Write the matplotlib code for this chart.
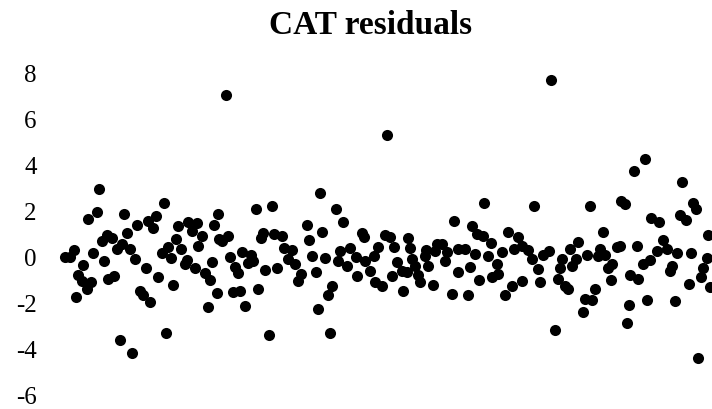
import matplotlib
matplotlib.use("Agg")
import matplotlib.pyplot as plt

# observation position (arbitrary order, no x labels shown) and residual value
obs = [5, 10, 14, 16, 18, 22, 23, 27, 28, 31, 33, 37, 39, 42, 44, 47, 48, 52, 54, 57,
       60, 62, 64, 67, 70, 72, 75, 77, 80, 83, 86, 88, 90, 93, 96, 98, 102, 104, 106, 108,
       111, 113, 116, 118, 121, 125, 127, 128, 132, 135, 137, 138, 142, 145, 148, 150, 152, 154, 157, 158,
       159, 162, 166, 168, 170, 173, 175, 178, 180, 182, 185, 188, 191, 193, 196, 198, 201, 203, 205, 209,
       212, 214, 217, 222, 224, 228, 232, 235, 238, 241, 247, 249, 252, 256, 258, 260, 262, 265, 268, 270,
       272, 276, 278, 280, 283, 287, 290, 296, 297, 302, 304, 305, 310, 314, 315, 318, 322, 325, 327, 330,
       332, 334, 337, 342, 343, 347, 348, 350, 352, 355, 358, 360, 365, 366, 368, 373, 375, 377, 382, 385,
       387, 392, 394, 398, 398, 405, 408, 410, 412, 415, 417, 419, 423, 424, 428, 431, 432, 437, 438, 442,
       445, 448, 452, 454, 458, 462, 462, 468, 472, 474, 478, 480, 483, 489, 491, 495, 498, 500, 502, 505,
       508, 510, 512, 516, 518, 523, 525, 527, 530, 532, 535, 538, 540, 543, 545, 548, 551, 552, 557, 560,
       561, 565, 567, 569, 570, 574, 577, 578, 583, 585, 587, 590, 591, 597, 599, 603, 607, 610, 612, 615,
       617, 620, 622, 626, 629, 631, 633, 636, 638, 641, 643, 647, 648, 650]
resid = [0.03, 0.03, 0.36, -1.7, -0.74, -0.98, -0.3, -1.34, 1.69, -1.05, 0.22, 2.02, 3.02, 0.75, -0.14, 1.0, -0.91, 0.85, -0.79, 0.39,
         -3.58, 0.61, 1.91, 1.07, 0.39, -4.12, -0.04, 1.43, -1.42, -1.6, -0.45, 1.62, -1.92, 1.29, 1.83, -0.84, 0.22, 2.41, -3.25, 0.46,
         -0.01, -1.17, 0.82, 1.37, 0.39, -0.26, -0.07, 1.57, 1.18, -0.45, 1.52, 0.51, 0.97, -0.65, -2.14, -0.94, -0.16, 1.43, -1.52, 1.91,
         0.82, 0.75, 7.07, 0.94, 0.03, -1.46, -0.4, -0.65, -1.42, 0.25, -2.07, -0.22, 0.13, -0.12, 2.12, -1.34, 0.85, 1.08, -0.51, -3.34,
         2.27, 1.04, -0.45, 0.94, 0.42, -0.04, 0.36, -0.26, -0.98, -0.69, 1.43, 0.79, 0.1, -0.59, -2.21, 2.82, 1.14, -0.01, -1.63, -3.25,
         -1.2, 2.12, -0.12, 0.32, 1.55, -0.33, 0.42, 0.03, -0.77, 1.08, 0.9, -0.12, -0.55, 0.1, -1.05, 0.48, -1.2, 1.0, 5.33, 0.9,
         -0.77, 0.46, -0.19, -0.55, -1.42, -0.62, 0.85, 0.42, -0.04, -0.33, -0.74, -1.05, 0.1, 0.36, -0.33, -1.17, 0.32, 0.61, 0.61, -0.12,
         0.25, -1.56, 1.62, 0.39, -0.6, 0.39, -1.6, -0.4, 1.37, 0.17, 1.04, -0.94, 0.94, 2.38, 0.07, 0.65, -0.84, -0.26, -0.69, 0.25,
         -1.6, 1.14, -1.2, 0.39, 0.9, 0.53, -0.98, 0.36, -0.04, 2.27, -0.48, -1.05, 0.13, 0.32, 7.76, -3.15, -0.91, -0.45, -0.04, -1.2,
         -1.34, 0.39, -0.33, -0.04, 0.68, -2.35, -1.78, 0.13, 2.24, -1.81, -1.34, 0.07, 0.39, 1.14, 0.13, -0.45, -0.94, -0.26, 0.46, 0.51,
         2.48, 2.36, -2.82, -2.04, -0.74, 3.78, 0.53, -0.91, -0.26, 4.32, -1.81, -0.07, 1.76, 0.32, 1.57, 0.79, 0.39, -0.55, -0.33, -1.89,
         0.22, 1.86, 3.31, 1.66, -1.13, 0.22, 2.38, 2.15, -4.35, -0.84, -0.45, -0.01, 1.0, -1.27]
yticks = [-6, -4, -2, 0, 2, 4, 6, 8]

plt.rcParams['font.family'] = ['Liberation Serif', 'DejaVu Serif']
plt.rcParams['axes.unicode_minus'] = False

fig = plt.figure(figsize=(7.12, 4.09), dpi=100)
ax = fig.add_axes([45 / 712, 13 / 409, 667 / 712, 322 / 409])
ax.plot(obs, resid, 'o', color='black', markersize=8, markeredgewidth=0)

ax.set_xlim(-15, 652)
ax.set_ylim(-6, 8)
ax.set_yticks(yticks)
ax.set_yticklabels([str(t) for t in yticks])
ax.set_xticks([])
ax.tick_params(axis='y', length=0, pad=6, labelsize=18)
for s in ax.spines.values():
    s.set_visible(False)

fig.text(371 / 712, 1 - 25 / 409, 'CAT residuals', ha='center', va='center',
         fontsize=24, fontweight='bold')

fig.savefig('out.png', dpi=100)
